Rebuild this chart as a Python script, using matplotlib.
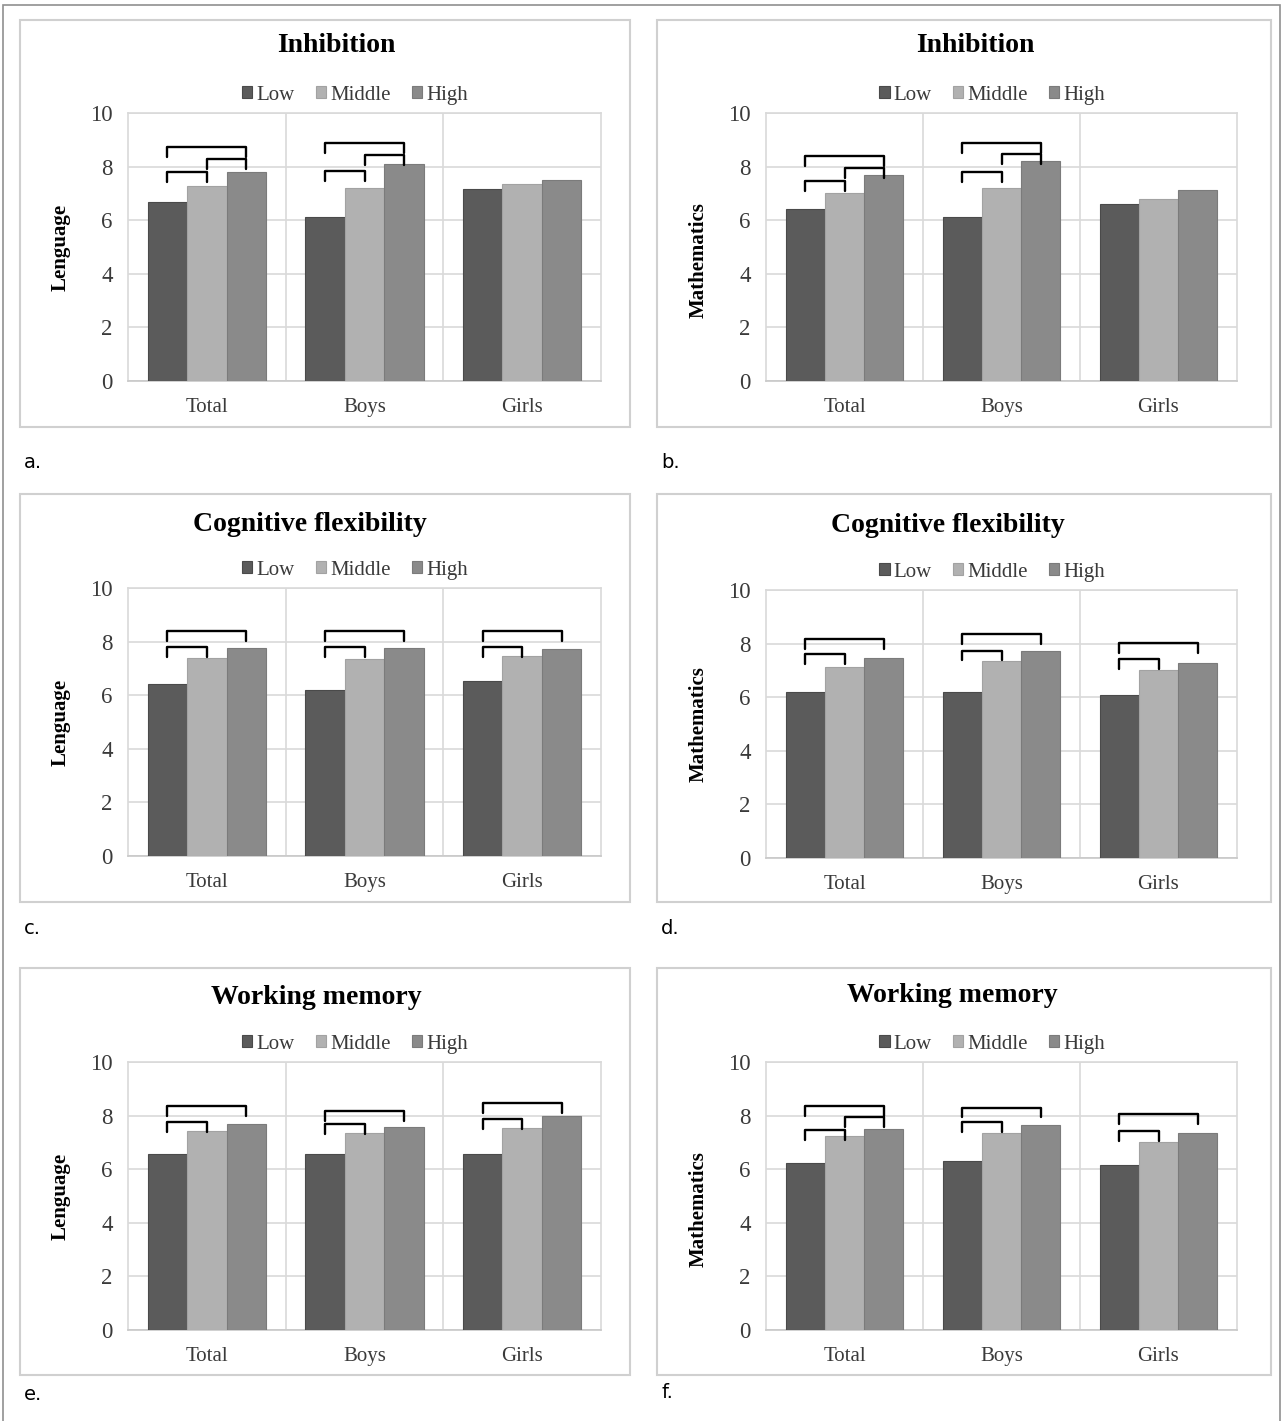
import matplotlib.pyplot as plt
from matplotlib.patches import Rectangle

W, H = 1283, 1421

groups = ["Total", "Boys", "Girls"]
levels = ["Low", "Middle", "High"]

# mean scores: rows = Total, Boys, Girls ; columns = Low, Middle, High
inh_lang = [[6.69, 7.28, 7.81], [6.13, 7.21, 8.08], [7.16, 7.35, 7.50]]
inh_math = [[6.40, 7.00, 7.69], [6.13, 7.21, 8.21], [6.60, 6.79, 7.13]]
flex_lang = [[6.41, 7.40, 7.75], [6.19, 7.34, 7.75], [6.54, 7.48, 7.74]]
flex_math = [[6.21, 7.14, 7.47], [6.21, 7.35, 7.74], [6.07, 7.01, 7.29]]
wm_lang = [[6.57, 7.43, 7.70], [6.57, 7.36, 7.56], [6.57, 7.55, 7.99]]
wm_math = [[6.24, 7.24, 7.51], [6.31, 7.36, 7.64], [6.16, 7.03, 7.36]]

# significance brackets: (group, level from, level to, height)
inh_lang_br = [(0, 0, 1, 7.80), (0, 1, 2, 8.28), (0, 0, 2, 8.73),
               (1, 0, 1, 7.85), (1, 1, 2, 8.43), (1, 0, 2, 8.87)]
inh_math_br = [(0, 0, 1, 7.46), (0, 1, 2, 7.95), (0, 0, 2, 8.41),
               (1, 0, 1, 7.78), (1, 1, 2, 8.46), (1, 0, 2, 8.87)]
flex_lang_br = [(0, 0, 1, 7.81), (0, 0, 2, 8.40), (1, 0, 1, 7.79),
                (1, 0, 2, 8.40), (2, 0, 1, 7.79), (2, 0, 2, 8.40)]
flex_math_br = [(0, 0, 1, 7.61), (0, 0, 2, 8.16), (1, 0, 1, 7.74),
                (1, 0, 2, 8.34), (2, 0, 1, 7.41), (2, 0, 2, 8.01)]
wm_lang_br = [(0, 0, 1, 7.76), (0, 0, 2, 8.37), (1, 0, 1, 7.69),
              (1, 0, 2, 8.16), (2, 0, 1, 7.88), (2, 0, 2, 8.48)]
wm_math_br = [(0, 0, 1, 7.46), (0, 1, 2, 7.96), (0, 0, 2, 8.36),
              (1, 0, 1, 7.76), (1, 0, 2, 8.30), (2, 0, 1, 7.43), (2, 0, 2, 8.05)]

titles = ["Inhibition", "Inhibition", "Cognitive flexibility",
          "Cognitive flexibility", "Working memory", "Working memory"]
ylabels = ["Lenguage", "Mathematics"] * 3
tags = ["a.", "b.", "c.", "d.", "e.", "f."]
panel_vals = [inh_lang, inh_math, flex_lang, flex_math, wm_lang, wm_math]
panel_br = [inh_lang_br, inh_math_br, flex_lang_br, flex_math_br, wm_lang_br, wm_math_br]

# layout in pixels: plot area (left, top, width, height), box (left, top, w, h),
# title centre x, title y, tag y, ylabel y fraction
layout = [
    ((128, 113, 473, 268), (20, 20, 610, 407), 336, 45, 462, 0.50),
    ((766, 113, 471, 268), (657, 20, 614, 407), 975, 45, 462, 0.45),
    ((128, 588, 473, 268), (20, 494, 610, 408), 310, 524, 929, 0.50),
    ((766, 590, 471, 268), (657, 494, 614, 408), 948, 526, 929, 0.50),
    ((128, 1062, 473, 268), (20, 968, 610, 407), 316, 997, 1395, 0.50),
    ((766, 1062, 471, 268), (657, 968, 614, 407), 952, 996, 1393, 0.45),
]

colors = ["#5b5b5b", "#b1b1b1", "#8a8a8a"]
edges = ["#4a4a4a", "#a2a2a2", "#7b7b7b"]
grid_c = "#d9d9d9"

plt.rcParams['font.family'] = ['Liberation Serif', 'DejaVu Serif']

fig = plt.figure(figsize=(W / 100, H / 100), dpi=100)


def fx(x):
    return x / W


def fy(y):
    return 1 - y / H


# outer frame
fig.patches.append(Rectangle((fx(3), fy(1425)), (1280 - 3) / W, (1425 - 5) / H,
                             transform=fig.transFigure, fill=False,
                             ec="#909090", lw=1.2))

width = 0.25
for p in range(6):
    (l, t, w, h), (bl, bt, bw, bh), tx, ty, tagy, ylf = layout[p]
    vals = panel_vals[p]

    fig.patches.append(Rectangle((fx(bl), fy(bt + bh)), bw / W, bh / H,
                                 transform=fig.transFigure, fill=False,
                                 ec="#d0d0d0", lw=1.5))

    ax = fig.add_axes([fx(l), fy(t + h), w / W, h / H])
    handles = []
    for k in range(3):
        xs = [g + (k - 1) * width for g in range(3)]
        ys = [vals[g][k] for g in range(3)]
        b = ax.bar(xs, ys, width=width, color=colors[k], edgecolor=edges[k],
                   lw=0.8, zorder=3, label=levels[k])
        handles.append(b)

    for g, i, j, yb in panel_br[p]:
        x1 = g + (i - 1) * width
        x2 = g + (j - 1) * width
        ax.plot([x1, x1, x2, x2], [yb - 0.37, yb, yb, yb - 0.37], color="black",
                lw=1.7, solid_joinstyle="round", solid_capstyle="round", zorder=4)

    ax.set_xlim(-0.5, 2.5)
    ax.set_ylim(0, 10)
    ax.set_yticks(range(0, 11, 2))
    ax.set_xticks(range(3))
    ax.set_xticklabels(groups)
    ax.yaxis.grid(True, color=grid_c, lw=1.2, zorder=0)
    for xv in [0.5, 1.5]:
        ax.axvline(xv, color=grid_c, lw=1.2, zorder=0)
    for s in ax.spines.values():
        s.set_color(grid_c)
        s.set_linewidth(1.2)
    ax.spines['bottom'].set_color("#c8c8c8")
    ax.tick_params(length=0, colors="#3a3a3a")
    ax.tick_params(axis='x', pad=12, labelsize=15)
    ax.tick_params(axis='y', pad=11, labelsize=16.5)

    ax.set_ylabel(ylabels[p], fontsize=15, fontweight="bold")
    ax.yaxis.set_label_coords(-0.121, ylf)

    ax.legend(handles=handles, loc="lower center", bbox_to_anchor=(0.48, 1.0),
              ncol=3, frameon=False, fontsize=15, handlelength=0.5,
              handleheight=0.5, handletextpad=0.2, columnspacing=1.0,
              borderaxespad=0.0, labelcolor="#3a3a3a")

    fig.text(fx(tx), fy(ty), titles[p], ha="center", va="center",
             fontsize=20, fontweight="bold")
    fig.text(fx(bl + 4), fy(tagy), tags[p], ha="left", va="center",
             fontsize=14, family="DejaVu Sans")

fig.savefig("out.png", dpi=100)
